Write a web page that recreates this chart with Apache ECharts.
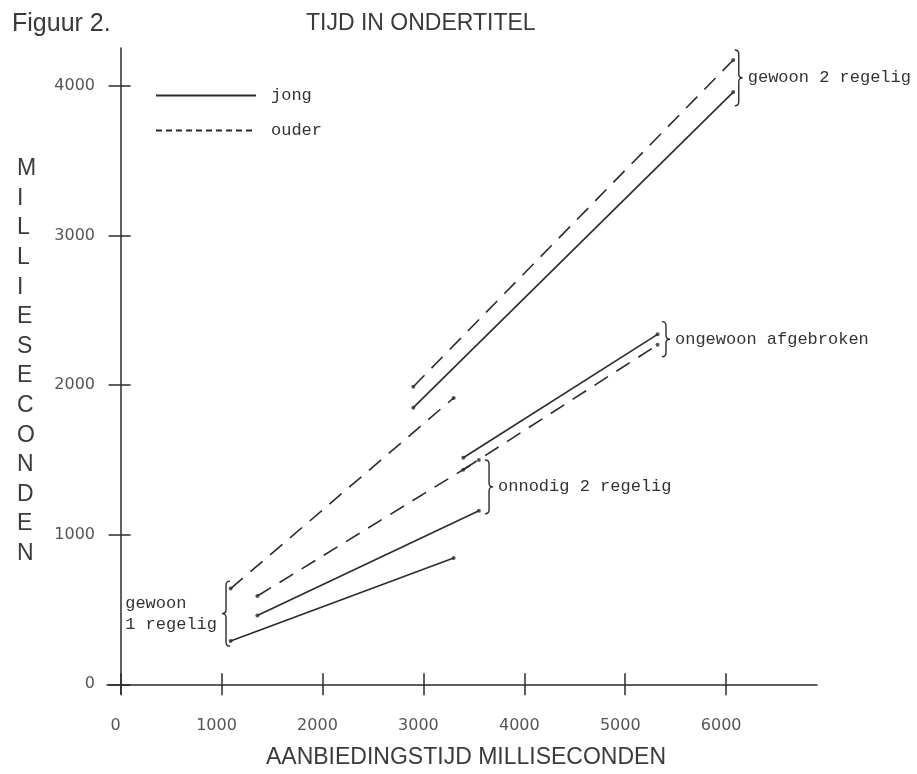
<!DOCTYPE html>
<html>
<head>
<meta charset="utf-8">
<script src="https://cdn.jsdelivr.net/npm/echarts@6/dist/echarts.min.js"></script>
<style>
html,body{margin:0;padding:0;background:#fff;}
#chart{width:917px;height:774px;}
</style>
</head>
<body>
<div id="chart"></div>
<script>
// ---- data ----
const groups = ['gewoon 1 regelig', 'onnodig 2 regelig', 'ongewoon afgebroken', 'gewoon 2 regelig'];
const groupLabels = ['gewoon   \n1 regelig', 'onnodig 2 regelig', 'ongewoon afgebroken', 'gewoon 2 regelig'];
const xStart = [1090, 1355, 3395, 2900];
const xEnd = [3300, 3550, 5320, 6070];
const jongStart = [290, 460, 1515, 1850];
const jongEnd = [845, 1160, 2340, 3960];
const ouderStart = [640, 590, 1435, 1990];
const ouderEnd = [1915, 1500, 2270, 4175];
const xTicks = [0, 1000, 2000, 3000, 4000, 5000, 6000];
const yTicks = [0, 1000, 2000, 3000, 4000];
// annotation braces (data coordinates)
const braceX = [1084, 3611, 5364, 6085];
const braceTop = [690, 1500, 2425, 4242];
const braceBottom = [255, 1140, 2190, 3868];
const braceSide = [-1, 1, 1, 1];

const INK = '#2b2b2b';
const MONO = '"Liberation Mono", "DejaVu Sans Mono", monospace';
const SANS = '"Liberation Sans", Arial, sans-serif';
const plain = v => String(v);

const series = [];
groups.forEach((g, i) => {
  series.push({
    type: 'line', name: 'jong', symbol: 'none', silent: true,
    data: [[xStart[i], jongStart[i]], [xEnd[i], jongEnd[i]]],
    lineStyle: { color: INK, width: 1.6, type: 'solid' },
    itemStyle: { color: INK }
  });
  series.push({
    type: 'line', name: 'ouder', symbol: 'none', silent: true,
    data: [[xStart[i], ouderStart[i]], [xEnd[i], ouderEnd[i]]],
    lineStyle: { color: INK, width: 1.6, type: [16, 10] },
    itemStyle: { color: INK }
  });
});
const dots = [];
groups.forEach((g, i) => {
  dots.push([xStart[i], jongStart[i]], [xEnd[i], jongEnd[i]], [xStart[i], ouderStart[i]], [xEnd[i], ouderEnd[i]]);
});
series.push({
  type: 'scatter', name: 'punten', data: dots, symbolSize: 4, silent: true,
  itemStyle: { color: INK }
});
series.push({
  type: 'custom', name: 'accolades', silent: true, z: 5,
  data: braceX.map((x, i) => [x, braceTop[i], braceBottom[i], braceSide[i], i]),
  renderItem: function (params, api) {
    const p1 = api.coord([api.value(0), api.value(1)]);
    const p2 = api.coord([api.value(0), api.value(2)]);
    const s = api.value(3);
    const idx = api.value(4);
    const x0 = p1[0], yt = p1[1], yb = p2[1], ym = (yt + yb) / 2;
    const w = 4 * s, r = 4;
    const d = 'M' + x0 + ' ' + yt +
      ' Q' + (x0 + w) + ' ' + yt + ' ' + (x0 + w) + ' ' + (yt + r) +
      ' L' + (x0 + w) + ' ' + (ym - r) +
      ' Q' + (x0 + w) + ' ' + ym + ' ' + (x0 + 2 * w) + ' ' + ym +
      ' Q' + (x0 + w) + ' ' + ym + ' ' + (x0 + w) + ' ' + (ym + r) +
      ' L' + (x0 + w) + ' ' + (yb - r) +
      ' Q' + (x0 + w) + ' ' + yb + ' ' + x0 + ' ' + yb;
    return {
      type: 'group',
      children: [
        { type: 'path', shape: { pathData: d }, style: { fill: null, stroke: INK, lineWidth: 1.4 } },
        {
          type: 'text', x: x0 + 2 * w + 5 * s, y: ym,
          style: {
            text: groupLabels[idx], align: s > 0 ? 'left' : 'right', verticalAlign: 'middle',
            font: '17px ' + MONO, fill: '#333', lineHeight: 21
          }
        }
      ]
    };
  }
});

const chart = echarts.init(document.getElementById('chart'), null, { renderer: 'canvas' });
chart.setOption({
  animation: false,
  backgroundColor: '#fff',
  title: [
    { text: 'Figuur 2.', left: 12, top: 12, padding: 0,
      textStyle: { fontFamily: SANS, fontSize: 25, fontWeight: 'normal', color: '#3a3a3a' } },
    { text: 'TIJD IN ONDERTITEL', left: 306, top: 12, padding: 0,
      textStyle: { fontFamily: SANS, fontSize: 23, fontWeight: 'normal', color: '#3a3a3a' } },
    { text: 'M\nI\nL\nL\nI\nE\nS\nE\nC\nO\nN\nD\nE\nN', left: 17, top: 154, padding: 0,
      textStyle: { fontFamily: SANS, fontSize: 23, fontWeight: 'normal', color: '#3a3a3a', lineHeight: 29.6 } }
  ],
  legend: {
    left: 150, top: 82, orient: 'vertical', itemWidth: 100, itemHeight: 14, itemGap: 18,
    selectedMode: false,
    itemStyle: { opacity: 0 },
    data: [{ name: 'jong' }, { name: 'ouder', lineStyle: { type: [6, 4] } }],
    textStyle: { fontFamily: MONO, fontSize: 17, color: '#333', padding: [0, 0, 0, 10] }
  },
  grid: { left: 107, right: 100, top: 48, bottom: 67 },
  xAxis: [
    {
      type: 'value', min: -135, max: 6900, position: 'bottom',
      name: 'AANBIEDINGSTIJD MILLISECONDEN', nameLocation: 'middle', nameGap: 52,
      nameTextStyle: { fontFamily: SANS, fontSize: 23, color: '#3a3a3a', padding: [0, 0, 0, 8] },
      axisLine: { onZero: true, onZeroAxisIndex: 0, lineStyle: { color: INK, width: 1.5 } },
      axisTick: { show: true, customValues: xTicks, length: 11, lineStyle: { color: INK, width: 1.5 } },
      axisLabel: {
        customValues: xTicks, margin: 24, formatter: plain,
        fontFamily: '"DejaVu Sans", sans-serif', fontSize: 16, color: '#555',
        padding: [0, 10, 0, 0]
      },
      splitLine: { show: false }
    },
    {
      type: 'value', min: -135, max: 6900, position: 'bottom',
      axisLine: { show: false, onZero: true, onZeroAxisIndex: 1 },
      axisTick: { show: true, inside: true, customValues: xTicks, length: 11, lineStyle: { color: INK, width: 1.5 } },
      axisLabel: { show: false },
      splitLine: { show: false }
    }
  ],
  yAxis: [
    {
      type: 'value', min: -65, max: 4255, position: 'left',
      axisLine: { onZero: true, onZeroAxisIndex: 0, lineStyle: { color: INK, width: 1.5 } },
      axisTick: { show: true, customValues: yTicks, length: 12, lineStyle: { color: INK, width: 1.5 } },
      axisLabel: {
        customValues: yTicks, margin: 12, formatter: plain,
        fontFamily: '"DejaVu Sans", sans-serif', fontSize: 16, color: '#555'
      },
      splitLine: { show: false }
    },
    {
      type: 'value', min: -65, max: 4255, position: 'left',
      axisLine: { show: false, onZero: true, onZeroAxisIndex: 1 },
      axisTick: { show: true, inside: true, customValues: yTicks, length: 10, lineStyle: { color: INK, width: 1.5 } },
      axisLabel: { show: false },
      splitLine: { show: false }
    }
  ],
  series: series
});
</script>
</body>
</html>
